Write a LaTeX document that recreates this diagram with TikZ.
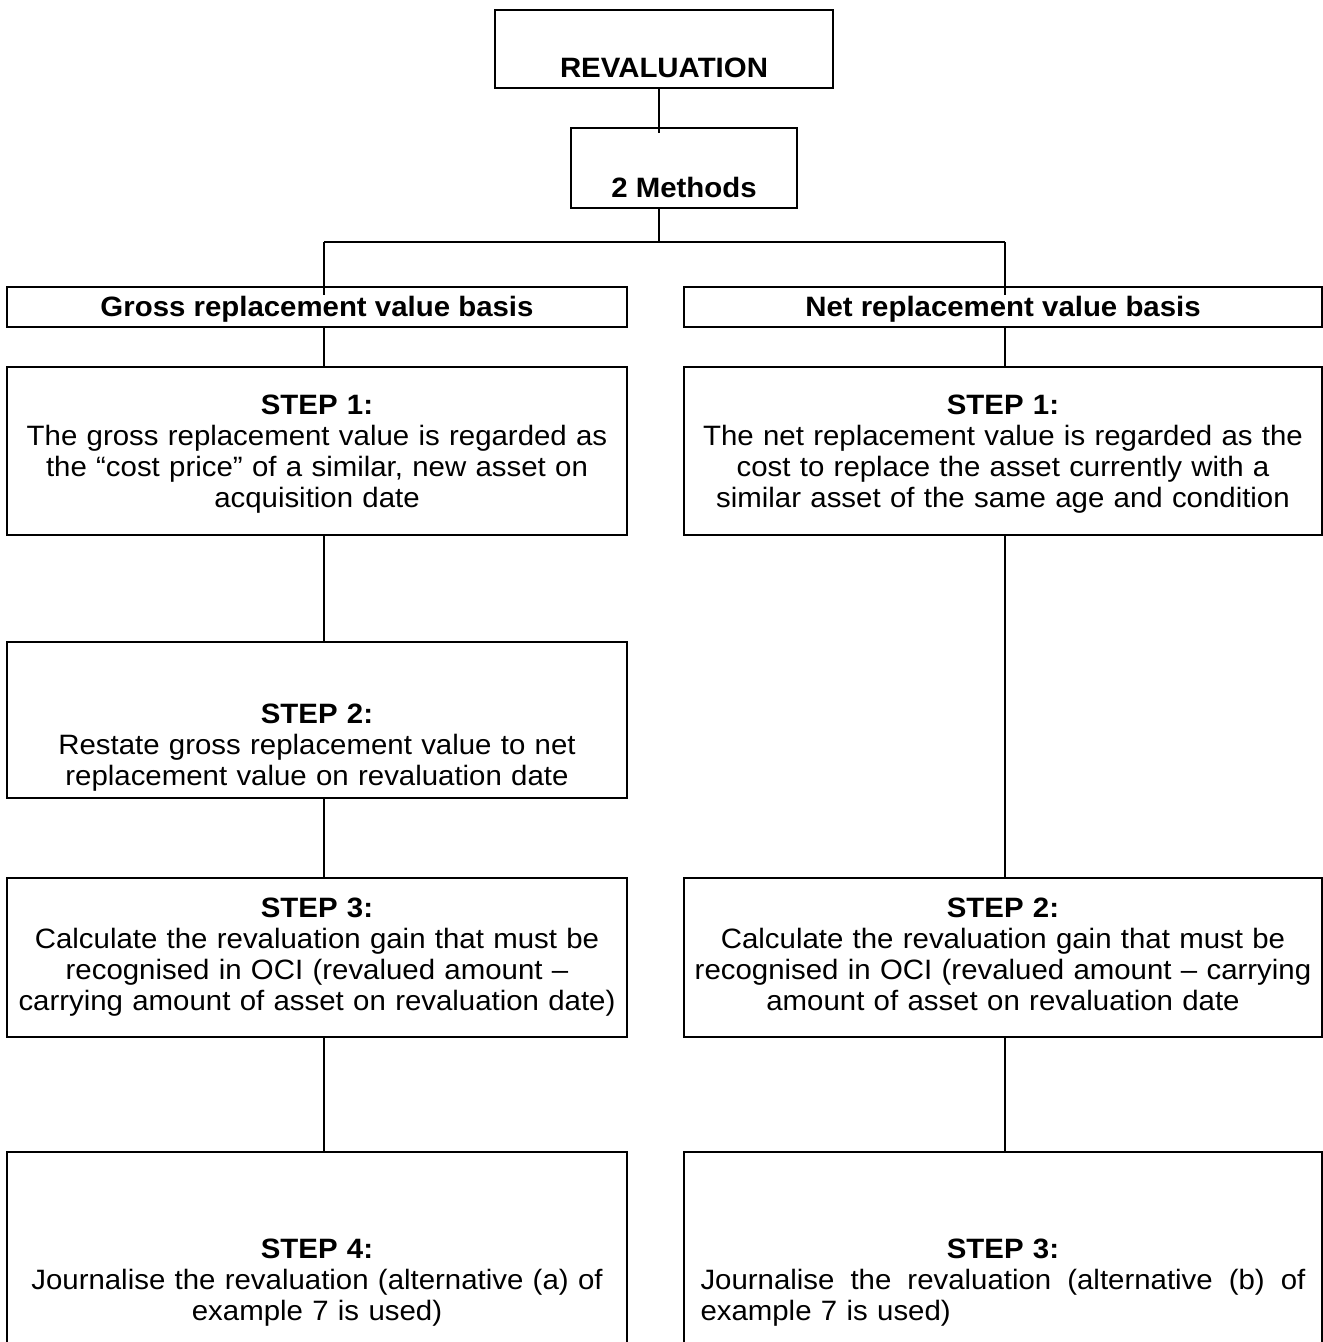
\documentclass[tikz,border=0pt]{standalone}
\usepackage{fontspec}
\setmainfont{Liberation Sans}[FakeStretch=1.05]
\usetikzlibrary{calc}

\begin{document}
\begin{tikzpicture}[x=1pt,y=-1pt,
  box/.style={draw, line width=2pt, inner sep=0pt, outer sep=0pt},
  conn/.style={draw, line width=1.3pt},
  lbl/.style={inner sep=0pt, font=\fontsize{28}{31}\selectfont},
  body/.style={lbl, text width=640pt, align=center, anchor=north}]

\useasboundingbox (0,0) rectangle (1323,1342);

% frames
\node[box, minimum width=338pt, minimum height=78pt]  (rev)   at (664,49)    {};
\node[box, minimum width=226pt, minimum height=80pt]  (meth)  at (684,168)   {};
\node[box, minimum width=620pt, minimum height=40pt]  (gross) at (317,307)   {};
\node[box, minimum width=638pt, minimum height=40pt]  (net)   at (1003,307)  {};
\node[box, minimum width=620pt, minimum height=168pt] (s1l)   at (317,451)   {};
\node[box, minimum width=638pt, minimum height=168pt] (s1r)   at (1003,451)  {};
\node[box, minimum width=620pt, minimum height=156pt] (s2l)   at (317,720)   {};
\node[box, minimum width=620pt, minimum height=159pt] (s3l)   at (317,957.5) {};
\node[box, minimum width=638pt, minimum height=159pt] (s2r)   at (1003,957.5){};
\node[box, minimum width=620pt, minimum height=248pt] (s4l)   at (317,1276)  {};
\node[box, minimum width=638pt, minimum height=248pt] (s3r)   at (1003,1276) {};

% connector guides
\coordinate (mx) at (659,0);
\coordinate (lx) at (324,0);
\coordinate (rx) at (1005,0);
\coordinate (split)  at (659,242);
\coordinate (lsplit) at (324,242);
\coordinate (rsplit) at (1005,242);

% connectors
\draw[conn] (rev.south -| mx) -- ($(meth.north -| mx)+(0,5)$);
\draw[conn] (meth.south -| mx) -- (split);
\draw[conn] (lsplit) -- (rsplit);
\draw[conn] (lsplit) -- ($(gross.north -| lx)+(0,8)$);
\draw[conn] (rsplit) -- ($(net.north -| rx)+(0,8)$);
\draw[conn] (gross.south -| lx) -- (s1l.north -| lx);
\draw[conn] (s1l.south -| lx) -- (s2l.north -| lx);
\draw[conn] (s2l.south -| lx) -- (s3l.north -| lx);
\draw[conn] (s3l.south -| lx) -- (s4l.north -| lx);
\draw[conn] (net.south -| rx) -- (s1r.north -| rx);
\draw[conn] (s1r.south -| rx) -- (s2r.north -| rx);
\draw[conn] (s2r.south -| rx) -- (s3r.north -| rx);

% headings
\node[lbl, anchor=base] (trev)   at (664,77)   {\textbf{REVALUATION}};
\node[lbl, anchor=base] (tmeth)  at (684,197)  {\textbf{2 Methods}};
\node[lbl, anchor=base] (tgross) at (317,316)  {\textbf{Gross replacement value basis}};
\node[lbl, anchor=base] (tnet)   at (1003,316) {\textbf{Net replacement value basis}};

% step texts
\node[body] (ts1l) at (317,395) {\textbf{STEP 1:}\\The gross replacement value is regarded as\\the “cost price” of a similar, new asset on\\acquisition date};
\node[body] (ts2l) at (317,704) {\textbf{STEP 2:}\\Restate gross replacement value to net\\replacement value on revaluation date};
\node[body] (ts3l) at (317,898) {\textbf{STEP 3:}\\Calculate the revaluation gain that must be\\recognised in OCI (revalued amount --\\carrying amount of asset on revaluation date)};
\node[body] (ts4l) at (317,1239) {\textbf{STEP 4:}\\Journalise the revaluation (alternative (a) of\\example 7 is used)};

\node[body] (ts1r) at (1003,395) {\textbf{STEP 1:}\\The net replacement value is regarded as the\\cost to replace the asset currently with a\\similar asset of the same age and condition};
\node[body] (ts2r) at (1003,898) {\textbf{STEP 2:}\\Calculate the revaluation gain that must be\\recognised in OCI (revalued amount -- carrying\\amount of asset on revaluation date};
\node[body] (ts3r) at (1003,1239) {\textbf{STEP 3:}\\\leavevmode\hbox to 605pt{Journalise\hfill the\hfill revaluation\hfill (alternative\hfill (b)\hfill of}\\\leavevmode\hbox to 605pt{example 7 is used)\hfill}};

\end{tikzpicture}
\end{document}
